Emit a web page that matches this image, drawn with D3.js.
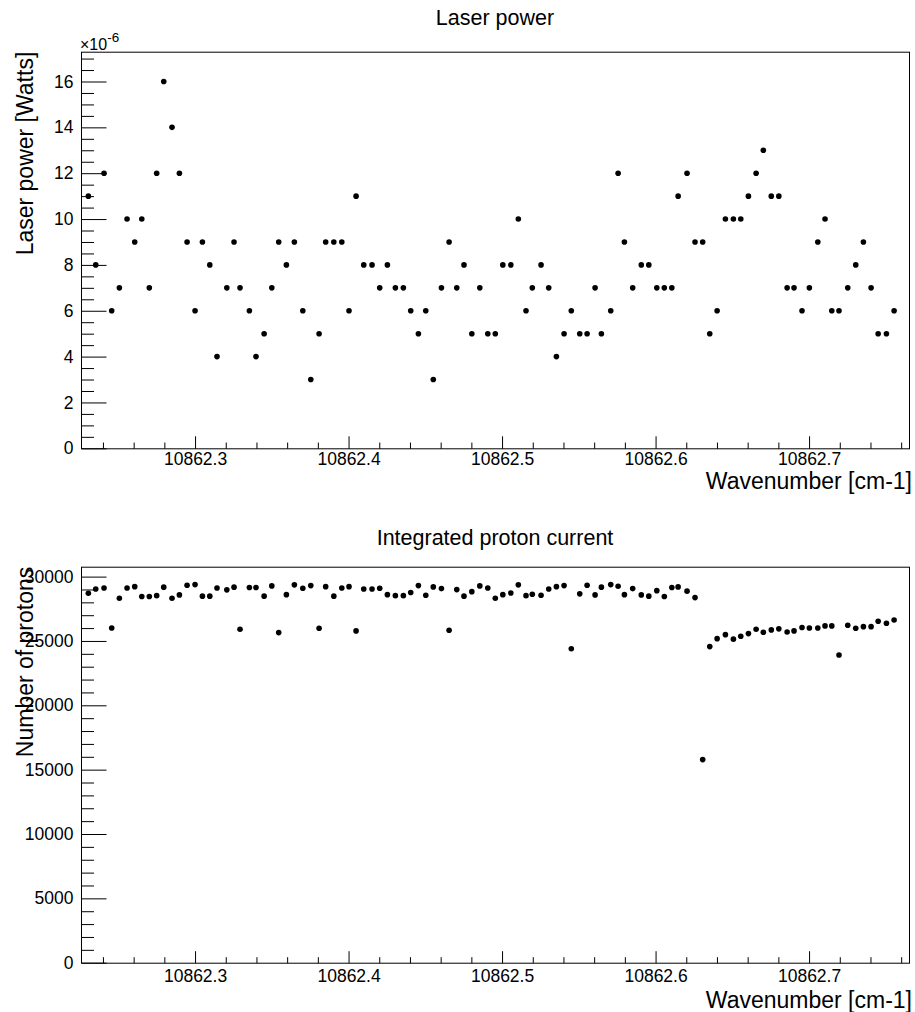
<!DOCTYPE html>
<html>
<head>
<meta charset="utf-8">
<script src="https://cdn.jsdelivr.net/npm/d3@7/dist/d3.min.js"></script>
<style>
  html, body { margin: 0; padding: 0; background: #fff; }
  svg { display: block; font-family: "Liberation Sans", Arial, Helvetica, sans-serif; }
</style>
</head>
<body>
<svg id="chart" width="915" height="1012"></svg>
<script>
// Scan points: wavenumber [cm-1]
const wavenumber = [
  10862.2305, 10862.2353, 10862.2407, 10862.2457, 10862.2507, 10862.2557, 10862.2607, 10862.2653, 10862.2702, 10862.2750,
  10862.2796, 10862.2850, 10862.2898, 10862.2948, 10862.3000, 10862.3048, 10862.3096, 10862.3143, 10862.3207, 10862.3254,
  10862.3293, 10862.3354, 10862.3397, 10862.3450, 10862.3500, 10862.3545, 10862.3595, 10862.3647, 10862.3702, 10862.3754,
  10862.3808, 10862.3851, 10862.3904, 10862.3956, 10862.4003, 10862.4049, 10862.4099, 10862.4153, 10862.4203, 10862.4253,
  10862.4305, 10862.4357, 10862.4405, 10862.4455, 10862.4503, 10862.4552, 10862.4605, 10862.4655, 10862.4705, 10862.4752,
  10862.4803, 10862.4855, 10862.4907, 10862.4956, 10862.5005, 10862.5057, 10862.5106, 10862.5156, 10862.5197, 10862.5254,
  10862.5304, 10862.5354, 10862.5404, 10862.5451, 10862.5506, 10862.5554, 10862.5606, 10862.5647, 10862.5708, 10862.5756,
  10862.5797, 10862.5851, 10862.5907, 10862.5956, 10862.6008, 10862.6057, 10862.6106, 10862.6147, 10862.6205, 10862.6257,
  10862.6307, 10862.6353, 10862.6401, 10862.6455, 10862.6507, 10862.6555, 10862.6605, 10862.6655, 10862.6702, 10862.6754,
  10862.6803, 10862.6857, 10862.6902, 10862.6954, 10862.7002, 10862.7057, 10862.7104, 10862.7148, 10862.7195, 10862.7252,
  10862.7304, 10862.7354, 10862.7404, 10862.7450, 10862.7504, 10862.7554
];

// Laser power [W]
const laserPower = [
  11e-6, 8e-6, 12e-6, 6e-6, 7e-6, 10e-6, 9e-6, 10e-6, 7e-6, 12e-6,
  16e-6, 14e-6, 12e-6, 9e-6, 6e-6, 9e-6, 8e-6, 4e-6, 7e-6, 9e-6,
  7e-6, 6e-6, 4e-6, 5e-6, 7e-6, 9e-6, 8e-6, 9e-6, 6e-6, 3e-6,
  5e-6, 9e-6, 9e-6, 9e-6, 6e-6, 11e-6, 8e-6, 8e-6, 7e-6, 8e-6,
  7e-6, 7e-6, 6e-6, 5e-6, 6e-6, 3e-6, 7e-6, 9e-6, 7e-6, 8e-6,
  5e-6, 7e-6, 5e-6, 5e-6, 8e-6, 8e-6, 10e-6, 6e-6, 7e-6, 8e-6,
  7e-6, 4e-6, 5e-6, 6e-6, 5e-6, 5e-6, 7e-6, 5e-6, 6e-6, 12e-6,
  9e-6, 7e-6, 8e-6, 8e-6, 7e-6, 7e-6, 7e-6, 11e-6, 12e-6, 9e-6,
  9e-6, 5e-6, 6e-6, 10e-6, 10e-6, 10e-6, 11e-6, 12e-6, 13e-6, 11e-6,
  11e-6, 7e-6, 7e-6, 6e-6, 7e-6, 9e-6, 10e-6, 6e-6, 6e-6, 7e-6,
  8e-6, 9e-6, 7e-6, 5e-6, 5e-6, 6e-6
];

// Integrated proton current (number of protons)
const protons = [
  28710, 29040, 29120, 26010, 28320, 29120, 29220, 28450, 28450, 28520,
  29180, 28320, 28580, 29330, 29380, 28480, 28480, 29120, 28970, 29180,
  25910, 29150, 29150, 28480, 29280, 25650, 28600, 29360, 29100, 29300,
  25990, 29220, 28480, 29120, 29220, 25780, 29040, 29040, 29100, 28600,
  28520, 28520, 28760, 29300, 28550, 29200, 29070, 25830, 28990, 28480,
  28830, 29280, 29120, 28320, 28600, 28730, 29360, 28520, 28630, 28550,
  29040, 29220, 29300, 24400, 28660, 29330, 28580, 29180, 29380, 29250,
  28600, 29070, 28580, 28480, 28910, 28450, 29150, 29200, 28870, 28370,
  15780, 24560, 25180, 25490, 25140, 25370, 25570, 25910, 25680, 25860,
  25940, 25700, 25780, 26040, 26010, 26010, 26170, 26170, 23910, 26220,
  25990, 26110, 26110, 26530, 26380, 26630
];

// Axis ranges and ticks
const xRange = [10862.2257, 10862.7651];
const xMajorTicks = [10862.3, 10862.4, 10862.5, 10862.6, 10862.7];
const xTickLabels = ["10862.3", "10862.4", "10862.5", "10862.6", "10862.7"];
const powerRange = [0, 17.3e-6];
const powerMajorTicks = [0, 2e-6, 4e-6, 6e-6, 8e-6, 10e-6, 12e-6, 14e-6, 16e-6];
const powerTickLabels = ["0", "2", "4", "6", "8", "10", "12", "14", "16"];
const protonRange = [0, 30770];
const protonMajorTicks = [0, 5000, 10000, 15000, 20000, 25000, 30000];
const protonTickLabels = ["0", "5000", "10000", "15000", "20000", "25000", "30000"];

const svg = d3.select("#chart");
const LABEL_SIZE = 17.5;

function drawPanel(cfg) {
  const g = svg.append("g");
  const x = d3.scaleLinear().domain(xRange).range([cfg.left, cfg.right]);
  const y = d3.scaleLinear().domain(cfg.yRange).range([cfg.bottom, cfg.top]);

  // Title
  g.append("text")
    .attr("x", (cfg.left + cfg.right) / 2)
    .attr("y", cfg.titleY)
    .attr("text-anchor", "middle")
    .attr("font-size", 21.5)
    .text(cfg.title);

  // Frame
  g.append("rect")
    .attr("x", cfg.left + 0.5).attr("y", cfg.top + 0.5)
    .attr("width", cfg.right - cfg.left).attr("height", cfg.bottom - cfg.top)
    .attr("fill", "none").attr("stroke", "#000").attr("stroke-width", 1);

  // X axis ticks: major every 0.1, minor every 0.02
  const xMinor = d3.range(Math.ceil(xRange[0] / 0.02), Math.floor(xRange[1] / 0.02) + 1)
    .map(k => k * 0.02)
    .filter(v => !xMajorTicks.some(m => Math.abs(m - v) < 1e-6));
  const xAxisMajor = d3.axisBottom(x).tickValues(xMajorTicks)
    .tickFormat((d, i) => xTickLabels[i]).tickSize(-cfg.xMajorLen).tickSizeOuter(0).tickPadding(cfg.xLabelPad);
  const xAxisMinor = d3.axisBottom(x).tickValues(xMinor)
    .tickFormat("").tickSize(-cfg.xMajorLen / 2).tickSizeOuter(0);

  const gx = g.append("g").attr("transform", `translate(0,${cfg.bottom + 0.5})`);
  gx.call(xAxisMinor);
  gx.append("g").call(xAxisMajor);
  gx.selectAll(".domain").remove();
  gx.selectAll("line").attr("stroke", "#000");
  gx.selectAll("text").attr("font-size", LABEL_SIZE).attr("font-family", null).attr("fill", "#000");

  // Y axis ticks
  const yMinor = d3.range(cfg.yRange[0], cfg.yRange[1] + 1e-12, cfg.yMinorStep)
    .filter(v => !cfg.yMajor.some(m => Math.abs(m - v) < cfg.yMinorStep / 100));
  const yAxisMajor = d3.axisLeft(y).tickValues(cfg.yMajor)
    .tickFormat((d, i) => cfg.yLabels[i]).tickSize(-cfg.yMajorLen).tickSizeOuter(0).tickPadding(8);
  const yAxisMinor = d3.axisLeft(y).tickValues(yMinor)
    .tickFormat("").tickSize(-cfg.yMajorLen / 2).tickSizeOuter(0);

  const gy = g.append("g").attr("transform", `translate(${cfg.left + 0.5},0)`);
  gy.call(yAxisMinor);
  gy.append("g").call(yAxisMajor);
  gy.selectAll(".domain").remove();
  gy.selectAll("line").attr("stroke", "#000");
  gy.selectAll("text").attr("font-size", LABEL_SIZE).attr("font-family", null).attr("fill", "#000");

  // Axis titles
  g.append("text")
    .attr("x", cfg.right + 3)
    .attr("y", cfg.xTitleY)
    .attr("text-anchor", "end")
    .attr("font-size", 23)
    .text("Wavenumber [cm-1]");

  g.append("text")
    .attr("transform", `translate(33,${cfg.top}) rotate(-90)`)
    .attr("text-anchor", "end")
    .attr("font-size", 23)
    .text(cfg.yTitle);

  if (cfg.exponent) {
    const t = g.append("text")
      .attr("x", cfg.left - 1)
      .attr("y", cfg.top - 2)
      .attr("font-size", 16);
    t.append("tspan").text("\u00d710");
    t.append("tspan").attr("font-size", 13.5).attr("dy", -8).text(cfg.exponent);
  }

  // Markers
  g.append("g")
    .selectAll("circle")
    .data(wavenumber.map((w, i) => [w, cfg.values[i]]))
    .join("circle")
    .attr("cx", d => x(d[0]))
    .attr("cy", d => y(d[1]))
    .attr("r", 2.8)
    .attr("fill", "#000");
}

drawPanel({
  title: "Laser power",
  titleY: 25,
  left: 81, right: 909, top: 51.7, bottom: 448.3,
  yRange: powerRange,
  yMajor: powerMajorTicks,
  yLabels: powerTickLabels,
  yMinorStep: 0.5e-6,
  yMajorLen: 25,
  xMajorLen: 12.5,
  xLabelPad: 3.5,
  xTitleY: 489,
  yTitle: "Laser power [Watts]",
  exponent: "-6",
  values: laserPower
});

drawPanel({
  title: "Integrated proton current",
  titleY: 545,
  left: 81, right: 909, top: 566.7, bottom: 962.7,
  yRange: protonRange,
  yMajor: protonMajorTicks,
  yLabels: protonTickLabels,
  yMinorStep: 1000,
  yMajorLen: 25,
  xMajorLen: 12,
  xLabelPad: 6,
  xTitleY: 1008,
  yTitle: "Number of protons",
  exponent: null,
  values: protons
});
</script>
</body>
</html>
